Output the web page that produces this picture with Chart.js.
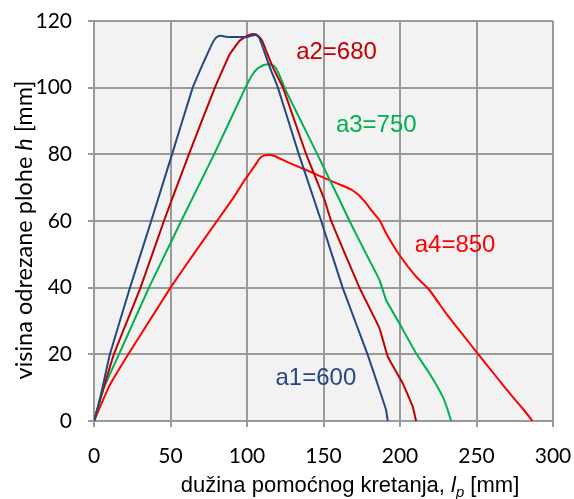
<!DOCTYPE html>
<html>
<head>
<meta charset="utf-8">
<script src="https://cdn.jsdelivr.net/npm/chart.js@4.4.1/dist/chart.umd.min.js"></script>
<style>
  html, body { margin: 0; padding: 0; background: #fff; }
  canvas { display: block; }
</style>
</head>
<body>
<canvas id="chart" width="574" height="499"></canvas>
<script>
// Series: l_p [mm] (x) and h [mm] (y)
var a1X = [0, 3, 6.5, 10.4, 23.5, 37.4, 51, 64.5, 71, 74.5, 77, 79, 81, 83, 86, 95, 101, 104, 106, 108, 110, 115, 120.2, 133.9, 148.5, 162.5, 178.8, 186.6, 190.9, 192];
var a1Y = [0, 5, 12, 20, 40, 60, 80, 100, 107, 110.5, 113, 114.6, 115.4, 115.6, 115.3, 115.2, 115.3, 115.7, 115.8, 115, 112.5, 106, 100, 80, 60, 40, 20, 9.3, 3.3, 0];

var a2X = [0, 5, 13, 30.4, 45.7, 62, 79, 88.7, 95, 100, 103, 106, 108, 110, 113, 117, 123.5, 138.7, 150.7, 155, 173.5, 186.6, 192, 201.8, 208.3, 210.5];
var a2Y = [0, 8, 20, 40, 60, 80, 100, 110, 114, 115.5, 116, 116, 115.2, 114, 110.5, 106, 100, 80, 66.3, 60, 40, 27.8, 19.3, 11.3, 4.3, 0];

var a3X = [0, 6.5, 16.3, 35.9, 57, 78.5, 99, 103, 107, 111, 114.8, 118, 121, 125, 132, 146, 160.5, 167, 178, 186.6, 190.9, 199.6, 210.5, 219.2, 227.9, 231.2, 233.4];
var a3Y = [0, 10, 20, 40, 60, 80, 100, 103.5, 105.8, 106.8, 107, 106.4, 104, 99.5, 93, 80, 66.3, 60, 50, 42.3, 36.3, 29.3, 20.3, 14.3, 7.3, 3.3, 0];

var a4X = [0, 9.8, 22.4, 50, 65, 80.4, 91.3, 98.5, 102.7, 105.7, 108.3, 111, 113.7, 118, 125.7, 138.7, 156.1, 163, 168.5, 173.5, 177.9, 182, 186.6, 190.9, 199.6, 210.5, 219.2, 230.1, 240, 250.7, 262, 273.5, 281, 286.6];
var a4Y = [0, 10.3, 20, 40, 50, 60, 67.1, 72.3, 75, 77, 78.8, 79.6, 79.8, 79.5, 77.8, 75.3, 71.8, 70.5, 69.3, 67.6, 65.3, 62.8, 60.3, 56.3, 49.8, 43.3, 39.3, 32.3, 26.5, 20.3, 13.8, 7.3, 3.3, 0];

var seriesNames = ['a1=600', 'a2=680', 'a3=750', 'a4=850'];
var seriesColors = ['#24497f', '#c00000', '#00b050', '#ff0000'];
// where each series label sits, in data units
var labelX = [145, 158.5, 184.5, 236];
var labelY = [12.9, 110.7, 88.8, 52.8];

var xTicks = [0, 50, 100, 150, 200, 250, 300];
var yTicks = [0, 20, 40, 60, 80, 100, 120];

function pts(xs, ys) {
    return xs.map(function (x, i) { return { x: x, y: ys[i] }; });
}

var allX = [a1X, a2X, a3X, a4X];
var allY = [a1Y, a2Y, a3Y, a4Y];

var datasets = allX.map(function (xs, i) {
    return {
        label: seriesNames[i],
        data: pts(xs, allY[i]),
        borderColor: seriesColors[i],
        borderWidth: 2,
        pointRadius: 0,
        tension: 0.1,
        fill: false
    };
});

var gridColor = '#9a9a9a';

var plotBg = {
    id: 'plotBg',
    beforeDraw: function (chart) {
        var c = chart.ctx, a = chart.chartArea;
        c.save();
        c.fillStyle = '#ffffff';
        c.fillRect(0, 0, chart.width, chart.height);
        c.fillStyle = '#f2f2f2';
        c.fillRect(a.left, a.top, a.right - a.left, a.bottom - a.top);
        c.restore();
    }
};

// series labels and the axis titles (mixed italic / subscript)
var texts = {
    id: 'texts',
    afterDatasetsDraw: function (chart) {
        var c = chart.ctx;
        var xs = chart.scales.x, ys = chart.scales.y;
        c.save();
        c.font = '24px "Liberation Sans", Arial, sans-serif';
        c.textAlign = 'center';
        c.textBaseline = 'middle';
        seriesNames.forEach(function (n, i) {
            c.fillStyle = seriesColors[i];
            c.fillText(n, xs.getPixelForValue(labelX[i]), ys.getPixelForValue(labelY[i]));
        });
        c.restore();

        // x title
        var normal = '22px "Liberation Sans", Arial, sans-serif';
        var ital = 'italic 22px "Liberation Sans", Arial, sans-serif';
        var sub = 'italic 15px "Liberation Sans", Arial, sans-serif';
        c.save();
        c.fillStyle = '#000';
        c.textBaseline = 'alphabetic';
        c.textAlign = 'left';
        var parts = [
            [normal, 'dužina pomoćnog kretanja, ', 0],
            [ital, 'l', 0],
            [sub, 'p', 5],
            [normal, ' [mm]', 0]
        ];
        var w = 0;
        parts.forEach(function (p) { c.font = p[0]; w += c.measureText(p[1]).width; });
        var x = 350 - w / 2, base = 492;
        parts.forEach(function (p) {
            c.font = p[0];
            c.fillText(p[1], x, base + p[2]);
            x += c.measureText(p[1]).width;
        });
        c.restore();

        // y title, rotated
        var yn = '23.5px Lato, sans-serif';
        var yi = 'italic 23.5px Lato, sans-serif';
        var yparts = [[yn, 'visina odrezane plohe '], [yi, 'h'], [yn, ' [mm]']];
        c.save();
        c.translate(32, 230);
        c.rotate(-Math.PI / 2);
        c.fillStyle = '#000';
        c.textBaseline = 'alphabetic';
        c.textAlign = 'left';
        var wy = 0;
        yparts.forEach(function (p) { c.font = p[0]; wy += c.measureText(p[1]).width; });
        var yx = -wy / 2;
        yparts.forEach(function (p) {
            c.font = p[0];
            c.fillText(p[1], yx, 0);
            yx += c.measureText(p[1]).width;
        });
        c.restore();
    }
};

function noPad(s) {
    s.paddingTop = 0;
    s.paddingBottom = 0;
    s.paddingLeft = 0;
    s.paddingRight = 0;
}

new Chart(document.getElementById('chart'), {
    type: 'line',
    data: { datasets: datasets },
    plugins: [plotBg, texts],
    options: {
        responsive: false,
        animation: false,
        layout: { padding: { left: 0, right: 21, top: 21, bottom: 0 } },
        plugins: {
            legend: { display: false },
            tooltip: { enabled: false }
        },
        scales: {
            x: {
                type: 'linear',
                min: 0,
                max: 300,
                afterBuildTicks: function (s) { s.ticks = xTicks.map(function (v) { return { value: v }; }); },
                afterFit: function (s) { s.height = 78; noPad(s); },
                grid: { color: gridColor, lineWidth: 2, tickLength: 6, drawTicks: true },
                border: { color: gridColor, width: 2 },
                ticks: {
                    color: '#000',
                    padding: 17,
                    maxRotation: 0,
                    font: { family: 'Lato', size: 21 }
                }
            },
            y: {
                type: 'linear',
                min: 0,
                max: 120,
                afterBuildTicks: function (s) { s.ticks = yTicks.map(function (v) { return { value: v }; }); },
                afterFit: function (s) { s.width = 94; noPad(s); },
                grid: { color: gridColor, lineWidth: 2, tickLength: 6, drawTicks: true },
                border: { color: gridColor, width: 2 },
                ticks: {
                    color: '#000',
                    padding: 16,
                    font: { family: 'Lato', size: 21 }
                }
            }
        }
    }
});
</script>
</body>
</html>
